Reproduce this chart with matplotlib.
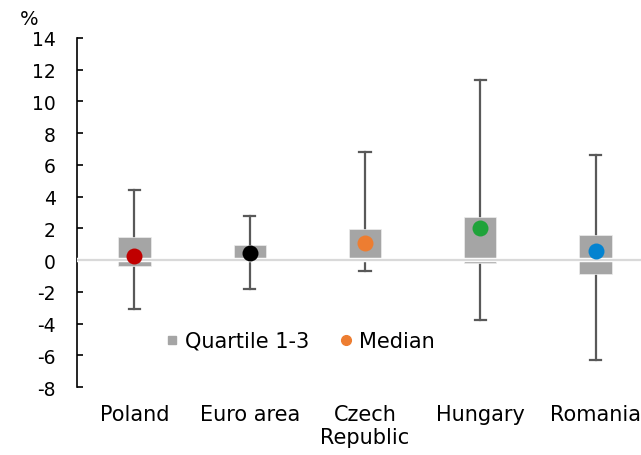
import matplotlib
matplotlib.use("Agg")
import matplotlib.pyplot as plt
from matplotlib.lines import Line2D
import numpy as np

categories = ["Poland", "Euro area", "Czech\nRepublic", "Hungary", "Romania"]
minimum = [-3.1, -1.8, -0.7, -3.75, -6.3]
maximum = [4.4, 2.8, 6.8, 11.35, 6.6]
q1 = [-0.35, 0.15, 0.15, -0.2, -0.85]
q3 = [1.45, 0.95, 1.95, 2.7, 1.6]
median = [0.25, 0.42, 1.1, 2.0, 0.57]
median_colors = ["#C00000", "#000000", "#ED7D31", "#1FA33A", "#0483D0"]
yticks = list(range(-8, 15, 2))

plt.rcParams["font.family"] = ["DejaVu Sans"]
fs_y = 13.5
fs = 15

fig = plt.figure(figsize=(6.41, 4.56), dpi=100)
ax = fig.add_axes([0.1197, 0.149, 0.8994, 0.7655])

x = np.arange(len(categories))
box_w = 0.28
cap_w = 0.05
whisk_col = "#595959"

for i in x:
    # whiskers above and below the box
    ax.plot([i, i], [q3[i], maximum[i]], color=whisk_col, lw=1.6, zorder=2)
    ax.plot([i, i], [minimum[i], q1[i]], color=whisk_col, lw=1.6, zorder=2)
    ax.plot([i - cap_w, i + cap_w], [maximum[i]] * 2, color=whisk_col, lw=1.6, zorder=2)
    ax.plot([i - cap_w, i + cap_w], [minimum[i]] * 2, color=whisk_col, lw=1.6, zorder=2)

ax.bar(x, np.array(q3) - np.array(q1), bottom=q1, width=box_w,
       color="#A5A5A5", edgecolor="#EDEDED", linewidth=0.5, zorder=3)

# zero line with a white halo
ax.axhline(0, color="white", lw=3.2, zorder=4)
ax.axhline(0, color="#D9D9D9", lw=1.6, zorder=5)

for i in x:
    ax.plot(i, median[i], "o", color=median_colors[i], markersize=11.5,
            markeredgewidth=0, zorder=6)

ax.set_xlim(-0.5, len(categories) - 0.5)
ax.set_ylim(-8, 14)
ax.set_yticks(yticks)
ax.set_yticklabels([str(v) for v in yticks], fontsize=fs_y)
ax.set_xticks(x)
ax.set_xticklabels(categories, fontsize=fs, linespacing=1.2)
ax.tick_params(axis="y", direction="in", length=4.5, width=1.2, pad=15, color="black")
ax.tick_params(axis="x", length=0, pad=12)

for s in ["top", "right", "bottom"]:
    ax.spines[s].set_visible(False)
ax.spines["left"].set_linewidth(1.2)
ax.spines["left"].set_color("black")

fig.text(0.046, 0.958, "%", fontsize=fs_y + 0.5, ha="center", va="center")

handles = [
    Line2D([], [], marker="s", linestyle="none", color="#A5A5A5", markersize=6),
    Line2D([], [], marker="o", linestyle="none", color="#ED7D31", markersize=7),
]
ax.legend(handles, ["Quartile 1-3", "Median"], loc="center", bbox_to_anchor=(0.388, 0.132),
          ncol=2, frameon=False, fontsize=fs, handletextpad=0.32, columnspacing=1.45,
          handlelength=0.6, borderpad=0, borderaxespad=0)

fig.savefig("out.png", dpi=100)
